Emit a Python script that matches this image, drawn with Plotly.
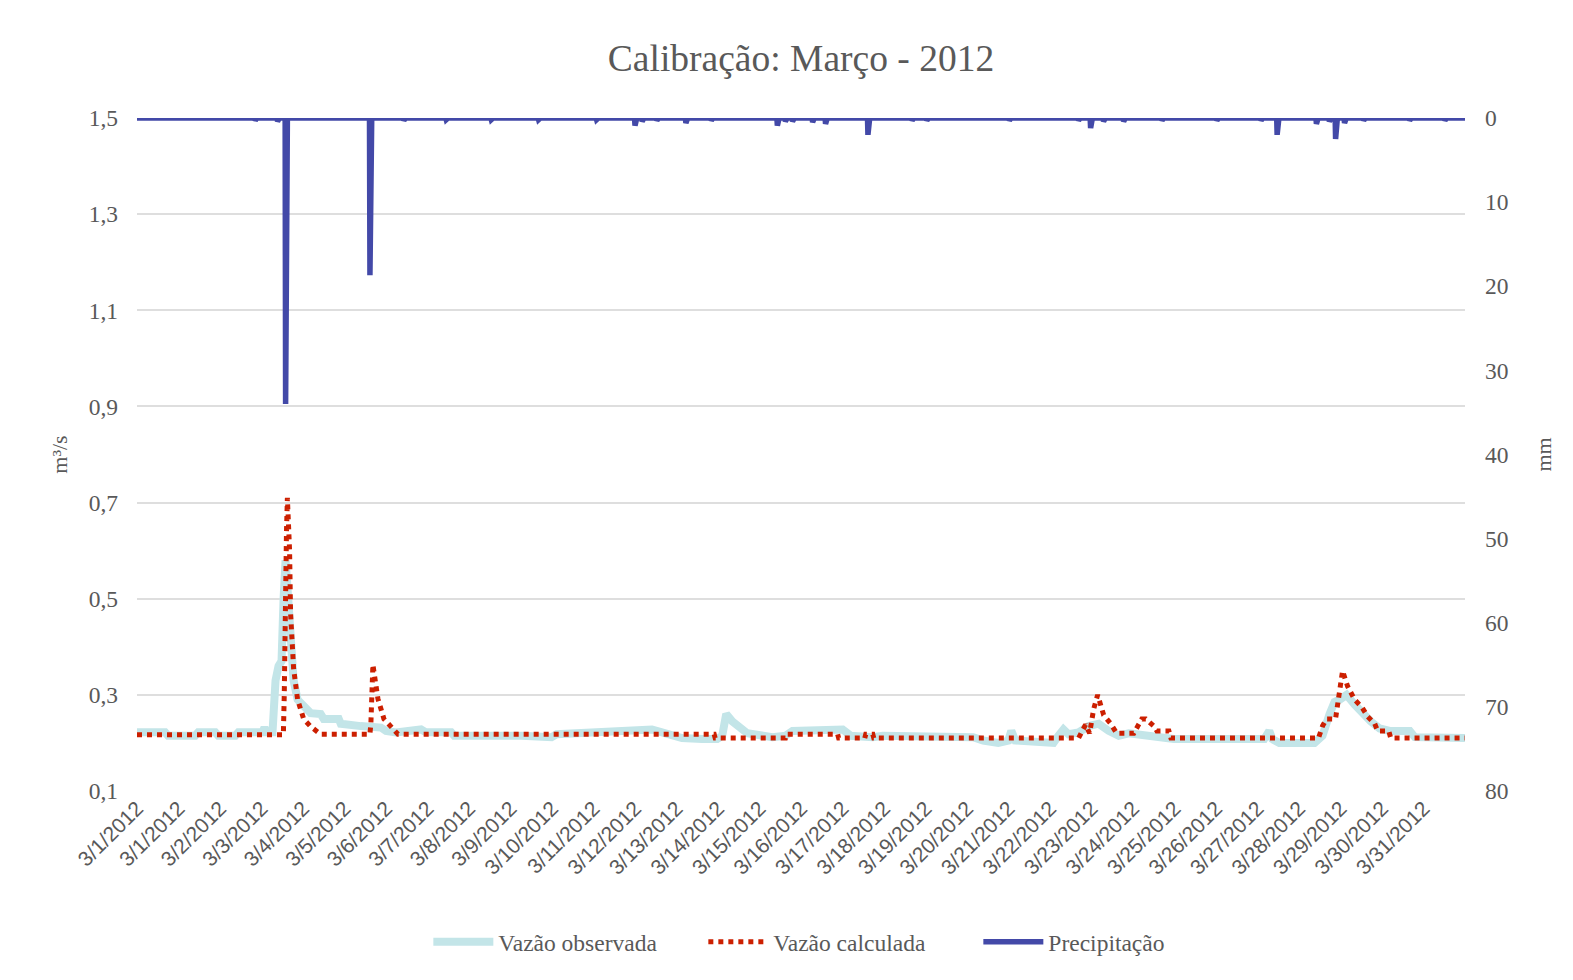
import plotly.graph_objects as go

# ---- data (hours since 2012-03-01 00:00) ----
obs_hours = [0, 15.75, 17.43, 32.62, 34.30, 43.86, 45.55, 55.11, 56.80, 70.30, 71.42, 72.55, 75.92,
             77.61, 79.29, 80.98, 82.11, 83.23, 84.36, 86.04, 87.73, 89.98, 93.35, 97.29, 102.91,
             104.60, 113.04, 114.16, 125.41, 136.66, 139.47, 145.09, 159.15, 161.96, 176.02, 177.71,
             215.39, 232.26, 235.07, 266.00, 282.87, 288.50, 294.12, 305.37, 316.61, 325.05, 327.86,
             330.11, 333.49, 336.30, 341.92, 355.98, 363.29, 367.23, 395.35, 399.84, 412.22, 417.84,
             468.45, 474.08, 482.51, 488.14, 489.82, 492.07, 513.44, 516.26, 519.07, 521.88, 527.50,
             533.13, 538.75, 544.37, 550.00, 555.62, 564.06, 572.49, 580.93, 631.54, 634.35, 636.04,
             639.98, 659.66, 664.16, 668.10, 670.91, 673.72, 677.66, 682.15, 686.65, 691.15, 696.21,
             701.84, 713.08, 715.89, 744.0]
obs_flow = [0.222, 0.222, 0.215, 0.215, 0.222, 0.222, 0.215, 0.215, 0.222, 0.222, 0.232, 0.222, 0.222,
            0.33, 0.36, 0.37, 0.50, 0.58, 0.52, 0.42, 0.33, 0.29, 0.275, 0.262, 0.26,
            0.25, 0.25, 0.24, 0.235, 0.232, 0.225, 0.222, 0.228, 0.222, 0.222, 0.215,
            0.215, 0.212, 0.218, 0.222, 0.225, 0.228, 0.222, 0.21, 0.208, 0.208, 0.215,
            0.26, 0.245, 0.235, 0.22, 0.212, 0.215, 0.225, 0.228, 0.215, 0.212, 0.215,
            0.212, 0.205, 0.20, 0.205, 0.225, 0.205, 0.20, 0.215, 0.228, 0.218, 0.222,
            0.235, 0.24, 0.225, 0.215, 0.22, 0.215, 0.212, 0.208, 0.208, 0.225, 0.208,
            0.20, 0.20, 0.215, 0.26, 0.285, 0.29, 0.30, 0.28, 0.26, 0.245, 0.23,
            0.225, 0.225, 0.212, 0.21]

calc_hours = [0, 82.0, 82.5, 83.0, 83.75, 84.25, 85.48, 86.04, 87.17, 87.73, 89.98, 93.35, 97.29,
              100.10, 102.91, 130.47, 131.03, 132.16, 133.28, 134.97, 138.34, 141.72, 143.97, 146.22,
              323.36, 323.92, 363.29, 363.85, 392.53, 393.09, 407.72, 408.28, 412.22, 412.78,
              527.50, 529.19, 531.44, 533.69, 535.94, 538.19, 541.56, 545.50, 548.87, 558.43,
              561.25, 562.93, 565.18, 569.68, 571.37, 578.11, 579.24, 661.91, 664.16, 666.41,
              671.47, 673.16, 675.41, 678.22, 682.15, 686.09, 689.47, 693.40, 695.09, 701.28,
              702.40, 744.0]
calc_flow = [0.217, 0.217, 0.30, 0.50, 0.64, 0.71, 0.60, 0.47, 0.40, 0.355, 0.29, 0.25, 0.234,
             0.225, 0.218, 0.218, 0.24, 0.363, 0.33, 0.292, 0.25, 0.235, 0.228, 0.218,
             0.218, 0.21, 0.21, 0.218, 0.218, 0.21, 0.21, 0.218, 0.218, 0.21,
             0.21, 0.22, 0.238, 0.22, 0.27, 0.30, 0.258, 0.24, 0.22, 0.22,
             0.24, 0.25, 0.25, 0.235, 0.225, 0.225, 0.21, 0.21, 0.235, 0.25,
             0.25, 0.30, 0.35, 0.318, 0.29, 0.275, 0.255, 0.24, 0.225, 0.225,
             0.21, 0.21]

rain_hours = [66.25, 78.75, 83.25, 130.5, 149.5, 173.25, 198.5, 225.0, 257.5, 279.0, 283.0, 291.25,
              307.5, 321.75, 358.75, 363.25, 367.25, 378.5, 385.75, 409.5, 434.25, 442.5, 488.75,
              527.5, 534.25, 541.5, 552.75, 574.25, 605.0, 629.75, 638.75, 660.75, 668.0, 671.5,
              676.5, 687.25, 713.0, 732.75]
rain_mm = [0.3, 0.4, 34.0, 18.7, 0.3, 0.2, 0.2, 0.2, 0.2, 0.9, 0.4, 0.3,
           0.6, 0.3, 0.9, 0.4, 0.4, 0.5, 0.7, 2.0, 0.3, 0.3, 0.3,
           0.3, 1.2, 0.4, 0.4, 0.3, 0.3, 0.3, 2.0, 0.7, 0.4, 2.5,
           0.6, 0.3, 0.3, 0.3]

tick_labels = ["3/1/2012", "3/1/2012"] + [f"3/{d}/2012" for d in range(2, 32)]
tick_step_hours = 23.25  # one label every 93 records of 15 min

# precipitation on the 15-min record grid (zero where no rain)
n_rec = 744 * 4 + 1
rain_grid_h = [i / 4 for i in range(n_rec)]
rain_grid_v = [0.0] * n_rec
for h, v in zip(rain_hours, rain_mm):
    rain_grid_v[int(round(h * 4))] = v

FONT = "Liberation Serif"
GRAY = "#595959"

fig = go.Figure()
fig.add_trace(go.Scatter(x=obs_hours, y=obs_flow, name="Vazão observada", mode="lines",
                         line=dict(color="#c3e5e8", width=8)))
fig.add_trace(go.Scatter(x=calc_hours, y=calc_flow, name="Vazão calculada", mode="lines",
                         line=dict(color="#cc1f00", width=5, dash="dot")))
fig.add_trace(go.Scatter(x=rain_grid_h, y=rain_grid_v, name="Precipitação", mode="lines",
                         line=dict(color="#4349a8", width=5.5), yaxis="y2"))

fig.update_layout(
    width=1565, height=964,
    margin=dict(l=129, r=108, t=110, b=181),
    paper_bgcolor="white", plot_bgcolor="white",
    separators=", ",
    font=dict(family=FONT, color=GRAY, size=23),
    title=dict(text="Calibração: Março - 2012", x=0.5, xref="paper", xanchor="center",
               y=1 - 50 / 964, yanchor="middle", yref="container",
               font=dict(family=FONT, size=37.5, color=GRAY)),
    xaxis=dict(range=[0, 744], tickmode="array",
               tickvals=[k * tick_step_hours for k in range(len(tick_labels))],
               ticktext=tick_labels, tickangle=-45, showgrid=False, zeroline=False,
               showline=False, ticks="",
               tickfont=dict(family="Liberation Sans", size=21, color=GRAY)),
    yaxis=dict(range=[0.1, 1.5], dtick=0.2, tick0=0.1, tickformat=".1f",
               showgrid=True, gridcolor="#dedede", gridwidth=2, zeroline=False,
               showline=False, ticks="", ticklabelstandoff=18,
               tickfont=dict(size=23.5),
               title=dict(text="m³/s", standoff=14, font=dict(size=22))),
    yaxis2=dict(range=[80, 0], dtick=10, overlaying="y", side="right", showgrid=False,
                zeroline=False, showline=False, ticks="", ticklabelstandoff=19,
                tickfont=dict(size=23.5),
                title=dict(text="mm", standoff=28, font=dict(size=22))),
    legend=dict(orientation="h", x=0.53, xanchor="center", xref="paper",
                y=1 - 934 / 964, yanchor="middle", yref="container",
                font=dict(family=FONT, size=23.5, color=GRAY), itemwidth=60,
                entrywidth=200, bgcolor="rgba(0,0,0,0)"),
    showlegend=True,
)

fig.write_html("out.html")
